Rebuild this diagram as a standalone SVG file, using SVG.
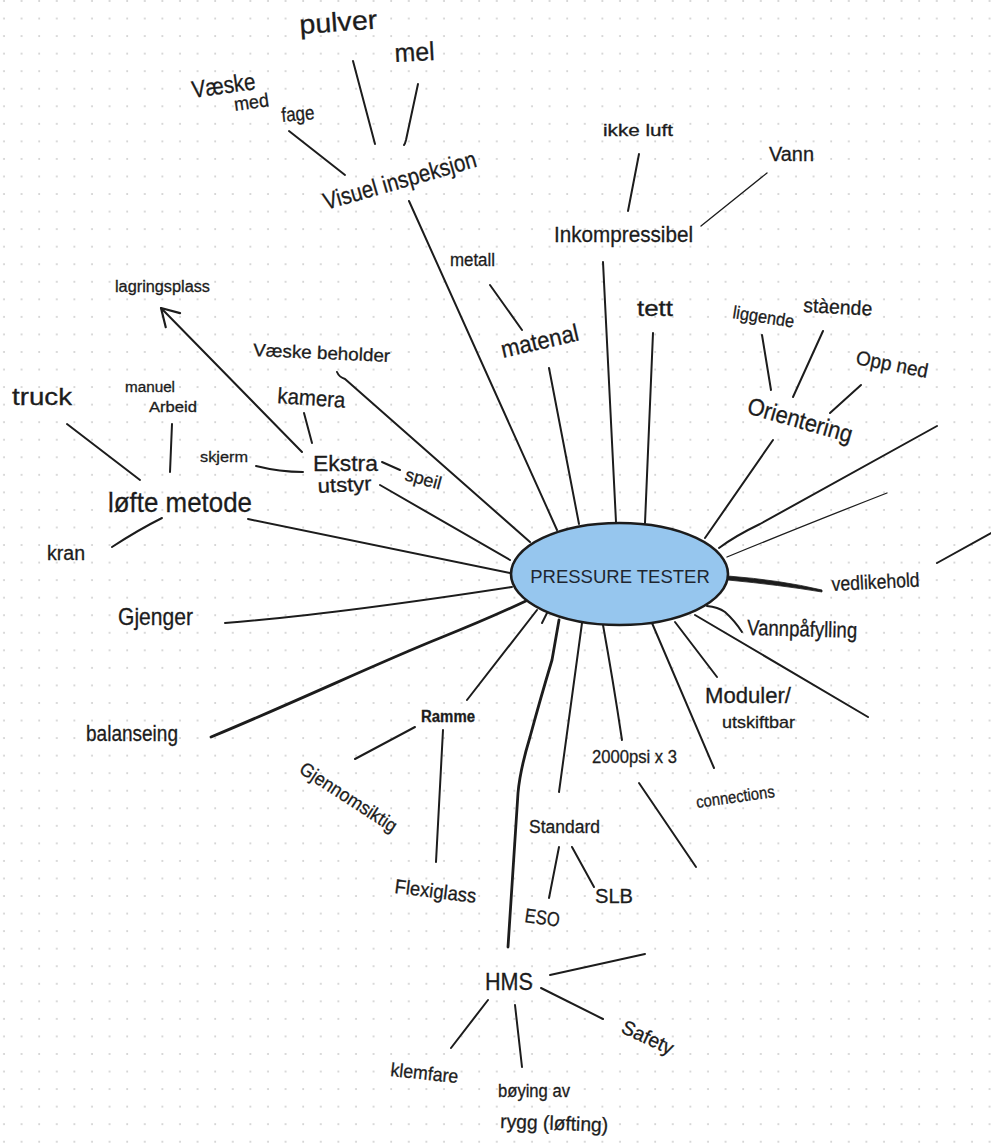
<svg xmlns="http://www.w3.org/2000/svg" width="991" height="1148" viewBox="0 0 991 1148">
  <defs>
    <pattern id="dots" patternUnits="userSpaceOnUse" x="0" y="0" width="17.6" height="17.55">
      <circle cx="4" cy="1" r="0.9" fill="#c6c6c6"/>
    </pattern>
    <marker id="openArrow" markerUnits="userSpaceOnUse" markerWidth="24" markerHeight="24" refX="0" refY="0" viewBox="-20 -12 24 24" orient="auto">
      <path d="M-17,-10 L0,0 L-17,10" fill="none" stroke="#1c1c1c" stroke-width="2.2" stroke-linecap="round" stroke-linejoin="round"/>
    </marker>
    <style>
      .hw { font-family: "Liberation Sans", Arial, sans-serif; fill: #1c1c1c; stroke: #1c1c1c; stroke-width: 0.3; }
      .ln { fill: none; stroke: #1c1c1c; stroke-width: 2; stroke-linecap: round; stroke-linejoin: round; }
      .thick { stroke-width: 2.8; }
      .thin { stroke-width: 1.3; }
      .hub { fill: #96c6ee; stroke: #1c1c1c; stroke-width: 2.6; }
      .hubtxt { font-family: "Liberation Sans", Arial, sans-serif; font-size: 18.5px; fill: #1e2630; }
    </style>
  </defs>

  <!-- dotted paper -->
  <rect x="0" y="0" width="991" height="1148" fill="#ffffff"/>
  <rect x="0" y="0" width="991" height="1148" fill="url(#dots)"/>

  <!-- connectors -->
  <g id="connectors">
    <!-- Visuel inspeksjon branch -->
    <line class="ln" x1="353" y1="61" x2="375" y2="144"/>
    <path class="ln" d="M418,84 L406,140 Q405,144 404,145"/>
    <line class="ln" x1="289" y1="131" x2="345" y2="175"/>
    <line class="ln" x1="409" y1="201" x2="557" y2="530"/>
    <!-- Inkompressibel branch -->
    <line class="ln" x1="639" y1="154" x2="628" y2="211"/>
    <line class="ln thin" x1="767" y1="173" x2="701" y2="226"/>
    <line class="ln" x1="603" y1="262" x2="616" y2="522"/>
    <!-- tett, materal -->
    <line class="ln" x1="653" y1="333" x2="645" y2="523"/>
    <line class="ln" x1="490" y1="285" x2="522" y2="330"/>
    <line class="ln" x1="549" y1="368" x2="579" y2="524"/>
    <!-- Orientering branch -->
    <line class="ln" x1="762" y1="335" x2="771" y2="390"/>
    <line class="ln" x1="823" y1="331" x2="793" y2="397"/>
    <line class="ln" x1="861" y1="385" x2="830" y2="413"/>
    <line class="ln" x1="773" y1="440" x2="705" y2="538"/>
    <!-- unlabeled spokes to the right -->
    <path class="ln" d="M937,426 L760,524 Q735,536 719,548"/>
    <path class="ln thin" d="M887,493 Q800,527 727,557"/>
    <line class="ln" x1="991" y1="533" x2="937" y2="563"/>
    <!-- vedlikehold (tapered stroke) -->
    <path d="M728,576 Q780,580 822,590 L822,592 Q780,585 728,580 Z" fill="#1c1c1c" stroke="#1c1c1c" stroke-width="0.8" stroke-linejoin="round"/>
    <!-- Vannpåfylling -->
    <path class="ln" d="M707,606 Q718,607 725,612 Q735,621 742,632"/>
    <!-- long spoke lower right -->
    <line class="ln" x1="695" y1="615" x2="868" y2="717"/>
    <!-- Moduler / connections -->
    <line class="ln" x1="675" y1="622" x2="717" y2="677"/>
    <line class="ln" x1="652" y1="623" x2="714" y2="768"/>
    <!-- 2000psi x 3 -->
    <path class="ln" d="M603,625 Q613,680 622,740"/>
    <line class="ln" x1="639" y1="783" x2="696" y2="867"/>
    <!-- Standard branch -->
    <line class="ln" x1="582" y1="623" x2="559" y2="792"/>
    <line class="ln" x1="559" y1="847" x2="549" y2="898"/>
    <line class="ln" x1="572" y1="847" x2="594" y2="887"/>
    <!-- HMS branch -->
    <path class="ln thick" d="M559,620 L552,660 Q540,700 530,737 Q520,770 518,793 L508,947"/>
    <line class="ln" x1="550" y1="975" x2="645" y2="954"/>
    <line class="ln" x1="541" y1="988" x2="603" y2="1019"/>
    <line class="ln" x1="488" y1="1000" x2="451" y2="1048"/>
    <line class="ln" x1="515" y1="1005" x2="522" y2="1067"/>
    <!-- Ramme branch -->
    <line class="ln" x1="467" y1="700" x2="537" y2="610"/>
    <line class="ln" x1="542" y1="623" x2="547" y2="613"/>
    <line class="ln" x1="415" y1="727" x2="355" y2="759"/>
    <line class="ln" x1="443" y1="730" x2="436" y2="862"/>
    <!-- balanseing, Gjenger -->
    <path class="ln thick" d="M211,737 C300,700 380,662 440,638 Q490,618 528,600"/>
    <path class="ln" d="M225,623 Q330,615 512,587"/>
    <!-- løfte metode branch -->
    <line class="ln" x1="248" y1="519" x2="510" y2="573"/>
    <line class="ln" x1="67" y1="424" x2="140" y2="480"/>
    <line class="ln" x1="172" y1="424" x2="170" y2="472"/>
    <path class="ln" d="M112,547 Q138,530 162,518"/>
    <!-- Ekstra utstyr branch -->
    <path class="ln" d="M256,466 Q280,472 303,472"/>
    <line class="ln" x1="304" y1="413" x2="312" y2="443"/>
    <line class="ln" x1="302" y1="452" x2="161" y2="308" marker-end="url(#openArrow)"/>
    <line class="ln" x1="382" y1="462" x2="400" y2="470"/>
    <line class="ln" x1="380" y1="485" x2="510" y2="560"/>
    <!-- Væske beholder -->
    <path class="ln" d="M337,372 Q339,377 345,379 L530,542"/>
  </g>

  <!-- central node -->
  <g id="node-pressure-tester">
    <ellipse class="hub" cx="619.5" cy="574" rx="108.5" ry="51"/>
    <text class="hubtxt" x="620" y="583" text-anchor="middle">PRESSURE TESTER</text>
  </g>

  <g id="node-visuel-inspeksjon">
    <text class="hw" x="326" y="210" font-size="24" textLength="158" lengthAdjust="spacingAndGlyphs" transform="rotate(-16 326 210)">Visuel inspeksjon</text>
  </g>
  <g id="node-pulver">
    <text class="hw" x="300" y="34" font-size="27" textLength="78" lengthAdjust="spacingAndGlyphs" transform="rotate(-4 300 34)">pulver</text>
  </g>
  <g id="node-mel">
    <text class="hw" x="395" y="62" font-size="26" textLength="40" lengthAdjust="spacingAndGlyphs" transform="rotate(-3 395 62)">mel</text>
  </g>
  <g id="node-vaeske-med-fage">
    <text class="hw" x="193" y="98" font-size="24" textLength="64" lengthAdjust="spacingAndGlyphs" transform="rotate(-8 193 98)">Væske</text>
    <text class="hw" x="235" y="111" font-size="19" textLength="35" lengthAdjust="spacingAndGlyphs" transform="rotate(-8 235 111)">med</text>
    <text class="hw" x="282" y="122" font-size="20" textLength="33" lengthAdjust="spacingAndGlyphs" transform="rotate(-5 282 122)">fage</text>
  </g>

  <g id="node-inkompressibel">
    <text class="hw" x="554" y="242" font-size="22" textLength="139" lengthAdjust="spacingAndGlyphs">Inkompressibel</text>
  </g>
  <g id="node-ikke-luft">
    <text class="hw" x="603" y="136" font-size="16" textLength="70" lengthAdjust="spacingAndGlyphs">ikke luft</text>
  </g>
  <g id="node-vann">
    <text class="hw" x="769" y="161" font-size="20" textLength="45" lengthAdjust="spacingAndGlyphs">Vann</text>
  </g>
  <g id="node-tett">
    <text class="hw" x="637" y="316" font-size="22" textLength="36" lengthAdjust="spacingAndGlyphs">tett</text>
  </g>
  <g id="node-metall">
    <text class="hw" x="450" y="266" font-size="18" textLength="45" lengthAdjust="spacingAndGlyphs">metall</text>
  </g>
  <g id="node-materal">
    <text class="hw" x="503" y="358" font-size="24" textLength="79" lengthAdjust="spacingAndGlyphs" transform="rotate(-13 503 358)">matenal</text>
  </g>

  <g id="node-orientering">
    <text class="hw" x="746" y="413" font-size="24" textLength="108" lengthAdjust="spacingAndGlyphs" transform="rotate(16 746 413)">Orientering</text>
  </g>
  <g id="node-liggende">
    <text class="hw" x="732" y="318" font-size="18" textLength="62" lengthAdjust="spacingAndGlyphs" transform="rotate(9 732 318)">liggende</text>
  </g>
  <g id="node-staende">
    <text class="hw" x="803" y="312" font-size="20" textLength="69" lengthAdjust="spacingAndGlyphs" transform="rotate(3 803 312)">stàende</text>
  </g>
  <g id="node-opp-ned">
    <text class="hw" x="855" y="364" font-size="20" textLength="73" lengthAdjust="spacingAndGlyphs" transform="rotate(11 855 364)">Opp ned</text>
  </g>

  <g id="node-vedlikehold">
    <text class="hw" x="832" y="591" font-size="20" textLength="88" lengthAdjust="spacingAndGlyphs" transform="rotate(-3 832 591)">vedlikehold</text>
  </g>
  <g id="node-vannpafylling">
    <text class="hw" x="747" y="635" font-size="22" textLength="110" lengthAdjust="spacingAndGlyphs" transform="rotate(1.5 747 635)">Vannpåfylling</text>
  </g>
  <g id="node-moduler">
    <text class="hw" x="705" y="703" font-size="22" textLength="86" lengthAdjust="spacingAndGlyphs">Moduler/</text>
    <text class="hw" x="722" y="728" font-size="17" textLength="73" lengthAdjust="spacingAndGlyphs">utskiftbar</text>
  </g>
  <g id="node-connections">
    <text class="hw" x="697" y="808" font-size="17" textLength="79" lengthAdjust="spacingAndGlyphs" transform="rotate(-8 697 808)">connections</text>
  </g>
  <g id="node-2000psi">
    <text class="hw" x="592" y="763" font-size="18" textLength="85" lengthAdjust="spacingAndGlyphs">2000psi x 3</text>
  </g>
  <g id="node-standard">
    <text class="hw" x="529" y="833" font-size="18" textLength="71" lengthAdjust="spacingAndGlyphs">Standard</text>
  </g>
  <g id="node-eso">
    <text class="hw" x="524" y="922" font-size="20" textLength="35" lengthAdjust="spacingAndGlyphs" transform="rotate(8 524 922)">ESO</text>
  </g>
  <g id="node-slb">
    <text class="hw" x="595" y="903" font-size="20" textLength="38" lengthAdjust="spacingAndGlyphs">SLB</text>
  </g>

  <g id="node-hms">
    <text class="hw" x="485" y="990" font-size="24" textLength="48" lengthAdjust="spacingAndGlyphs">HMS</text>
  </g>
  <g id="node-safety">
    <text class="hw" x="620" y="1032" font-size="20" textLength="55" lengthAdjust="spacingAndGlyphs" transform="rotate(25 620 1032)">Safety</text>
  </g>
  <g id="node-klemfare">
    <text class="hw" x="390" y="1076" font-size="19" textLength="68" lengthAdjust="spacingAndGlyphs" transform="rotate(6 390 1076)">klemfare</text>
  </g>
  <g id="node-boying">
    <text class="hw" x="498" y="1097" font-size="18" textLength="72" lengthAdjust="spacingAndGlyphs">bøying av</text>
    <text class="hw" x="500" y="1128" font-size="20" textLength="108" lengthAdjust="spacingAndGlyphs" transform="rotate(2 500 1128)">rygg (løfting)</text>
  </g>

  <g id="node-ramme">
    <text class="hw" x="421" y="722" font-size="16" font-weight="bold" textLength="54" lengthAdjust="spacingAndGlyphs">Ramme</text>
  </g>
  <g id="node-gjennomsiktig">
    <text class="hw" x="298" y="772" font-size="19" textLength="112" lengthAdjust="spacingAndGlyphs" transform="rotate(33 298 772)">Gjennomsiktig</text>
  </g>
  <g id="node-flexiglass">
    <text class="hw" x="394" y="893" font-size="20" textLength="82" lengthAdjust="spacingAndGlyphs" transform="rotate(7 394 893)">Flexiglass</text>
  </g>

  <g id="node-balanseing">
    <text class="hw" x="86" y="741" font-size="22" textLength="92" lengthAdjust="spacingAndGlyphs">balanseing</text>
  </g>
  <g id="node-gjenger">
    <text class="hw" x="118" y="625" font-size="24" textLength="75" lengthAdjust="spacingAndGlyphs">Gjenger</text>
  </g>

  <g id="node-lofte-metode">
    <text class="hw" x="108" y="512" font-size="28" textLength="144" lengthAdjust="spacingAndGlyphs">løfte metode</text>
  </g>
  <g id="node-truck">
    <text class="hw" x="12" y="405" font-size="24" textLength="60" lengthAdjust="spacingAndGlyphs">truck</text>
  </g>
  <g id="node-manuel-arbeid">
    <text class="hw" x="125" y="392" font-size="14" textLength="50" lengthAdjust="spacingAndGlyphs">manuel</text>
    <text class="hw" x="149" y="412" font-size="14" textLength="48" lengthAdjust="spacingAndGlyphs">Arbeid</text>
  </g>
  <g id="node-kran">
    <text class="hw" x="47" y="560" font-size="20" textLength="38" lengthAdjust="spacingAndGlyphs">kran</text>
  </g>

  <g id="node-ekstra-utstyr">
    <text class="hw" x="313" y="471" font-size="22" textLength="65" lengthAdjust="spacingAndGlyphs">Ekstra</text>
    <text class="hw" x="318" y="493" font-size="20" textLength="54" lengthAdjust="spacingAndGlyphs" transform="rotate(-3 318 493)">utstyr</text>
  </g>
  <g id="node-speil">
    <text class="hw" x="404" y="480" font-size="18" textLength="37" lengthAdjust="spacingAndGlyphs" transform="rotate(15 404 480)">speil</text>
  </g>
  <g id="node-kamera">
    <text class="hw" x="277" y="403" font-size="22" textLength="68" lengthAdjust="spacingAndGlyphs" transform="rotate(4 277 403)">kamera</text>
  </g>
  <g id="node-skjerm">
    <text class="hw" x="200" y="462" font-size="15" textLength="48" lengthAdjust="spacingAndGlyphs">skjerm</text>
  </g>
  <g id="node-vaeske-beholder">
    <text class="hw" x="253" y="356" font-size="18" textLength="137" lengthAdjust="spacingAndGlyphs" transform="rotate(2.5 253 356)">Væske beholder</text>
  </g>
  <g id="node-lagringsplass">
    <text class="hw" x="115" y="292" font-size="16" textLength="95" lengthAdjust="spacingAndGlyphs">lagringsplass</text>
  </g>
</svg>
